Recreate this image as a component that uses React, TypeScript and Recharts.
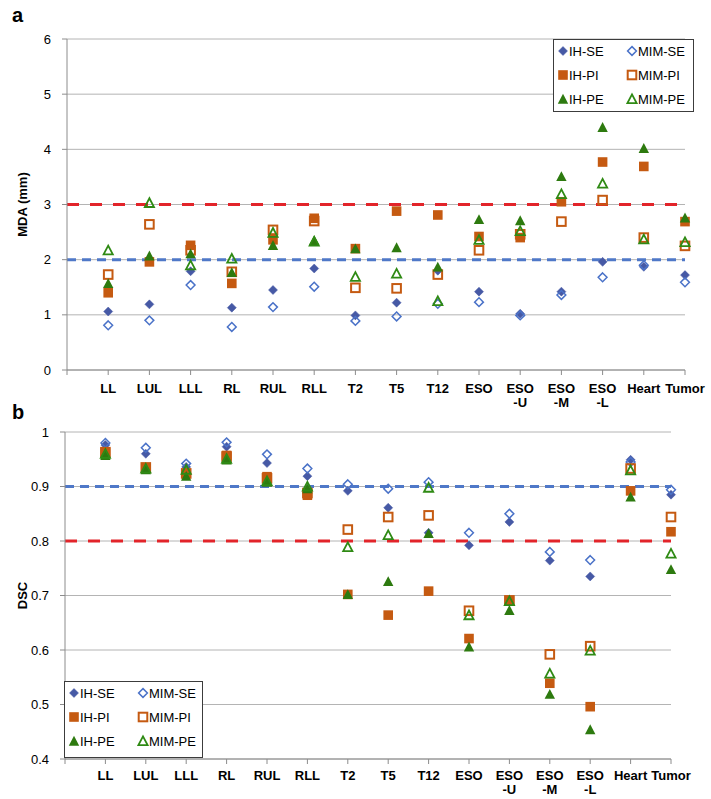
import React from 'react';
import {
    ScatterChart,
    Scatter,
    XAxis,
    YAxis,
    CartesianGrid,
    ReferenceLine,
    Legend
} from 'recharts';

const FONT = '"Liberation Sans", Arial, sans-serif';

// categorías del eje X (salto de línea = etiqueta en dos líneas)
const categories = ['LL', 'LUL', 'LLL', 'RL', 'RUL', 'RLL', 'T2', 'T5', 'T12', 'ESO', 'ESO\n-U', 'ESO\n-M', 'ESO\n-L', 'Heart', 'Tumor'];
const xTicks = [0, 1, 2, 3, 4, 5, 6, 7, 8, 9, 10, 11, 12, 13, 14, 15];

// panel a: MDA (mm)
const mdaTicks = [0, 1, 2, 3, 4, 5, 6];
const mdaIhSe = [1.06, 1.19, 1.79, 1.13, 1.45, 1.84, 0.99, 1.22, 1.80, 1.42, 1.02, 1.42, 1.96, 1.87, 1.72];
const mdaMimSe = [0.81, 0.90, 1.54, 0.78, 1.14, 1.51, 0.89, 0.97, 1.20, 1.23, 0.99, 1.36, 1.68, 1.90, 1.59];
const mdaIhPi = [1.40, 1.96, 2.26, 1.57, 2.36, 2.75, 2.20, 2.88, 2.81, 2.42, 2.40, 3.05, 3.77, 3.69, 2.69];
const mdaMimPi = [1.73, 2.64, 2.17, 1.78, 2.54, 2.70, 1.49, 1.48, 1.73, 2.17, 2.46, 2.69, 3.08, 2.40, 2.25];
const mdaIhPe = [1.57, 2.07, 2.11, 1.77, 2.26, 2.35, 2.20, 2.22, 1.87, 2.73, 2.71, 3.51, 4.40, 4.02, 2.76];
const mdaMimPe = [2.17, 3.03, 1.90, 2.02, 2.49, 2.33, 1.69, 1.75, 1.25, 2.36, 2.52, 3.19, 3.38, 2.37, 2.32];

// panel b: DSC
const dscTicks = [0.4, 0.5, 0.6, 0.7, 0.8, 0.9, 1];
const dscIhSe = [0.976, 0.960, 0.936, 0.973, 0.943, 0.919, 0.892, 0.861, 0.815, 0.792, 0.835, 0.764, 0.735, 0.949, 0.885];
const dscMimSe = [0.980, 0.971, 0.942, 0.981, 0.959, 0.933, 0.904, 0.896, 0.908, 0.815, 0.850, 0.780, 0.765, 0.945, 0.894];
const dscIhPi = [0.962, 0.933, 0.924, 0.957, 0.918, 0.884, 0.702, 0.664, 0.708, 0.621, 0.690, 0.539, 0.496, 0.892, 0.817];
const dscMimPi = [0.963, 0.935, 0.924, 0.955, 0.915, 0.888, 0.821, 0.844, 0.847, 0.672, 0.691, 0.592, 0.607, 0.933, 0.844];
const dscIhPe = [0.957, 0.931, 0.919, 0.949, 0.908, 0.896, 0.702, 0.726, 0.814, 0.606, 0.673, 0.519, 0.454, 0.881, 0.748];
const dscMimPe = [0.960, 0.933, 0.931, 0.951, 0.910, 0.900, 0.789, 0.811, 0.898, 0.664, 0.690, 0.557, 0.599, 0.930, 0.777];

type Kind = 'diamond' | 'square' | 'triangle';

interface SeriesDef {
    name: string;
    kind: Kind;
    open: boolean;
    color: string;
}

// orden de Excel: fila a fila en la leyenda
const seriesDefs: SeriesDef[] = [
    { name: 'IH-SE', kind: 'diamond', open: false, color: '#4659a5' },
    { name: 'MIM-SE', kind: 'diamond', open: true, color: '#4a72c8' },
    { name: 'IH-PI', kind: 'square', open: false, color: '#c55a11' },
    { name: 'MIM-PI', kind: 'square', open: true, color: '#c55a11' },
    { name: 'IH-PE', kind: 'triangle', open: false, color: '#2d7a0f' },
    { name: 'MIM-PE', kind: 'triangle', open: true, color: '#2f8a14' }
];

const toPoints = (values: number[]) => values.map((v, i) => ({ x: i + 1, y: v }));

const Marker = ({ cx, cy, kind, open, color }: { cx: number; cy: number; kind: Kind; open: boolean; color: string }) => {
    if (cx == null || cy == null) return null;
    if (kind === 'diamond') {
        const r = open ? 4.4 : 4.5;
        return (
            <path
                d={`M${cx},${cy - r}L${cx + r},${cy}L${cx},${cy + r}L${cx - r},${cy}Z`}
                fill={open ? 'none' : color}
                stroke={color}
                strokeWidth={open ? 1.5 : 0.5}
            />
        );
    }
    if (kind === 'square') {
        const h = open ? 4.3 : 4.8;
        return (
            <rect
                x={cx - h}
                y={cy - h}
                width={h * 2}
                height={h * 2}
                fill={open ? 'none' : color}
                stroke={color}
                strokeWidth={open ? 2 : 0}
            />
        );
    }
    const h = open ? 4.6 : 5.2;
    return (
        <path
            d={`M${cx},${cy - h}L${cx + h},${cy + h * 0.9}L${cx - h},${cy + h * 0.9}Z`}
            fill={open ? 'none' : color}
            stroke={color}
            strokeWidth={open ? 1.8 : 0}
            strokeLinejoin="miter"
        />
    );
};

const LegendBox = ({ width, height }: { width: number; height: number }) => (
    <div style={{ width, height, boxSizing: 'border-box', border: '1px solid #3c3c3c', background: '#fff' }}>
        <svg width={width - 2} height={height - 2} style={{ display: 'block' }}>
            {seriesDefs.map((s, i) => {
                const col = i % 2;
                const row = Math.floor(i / 2);
                const mx = 9 + col * 69;
                const my = 11 + row * 24;
                return (
                    <g key={s.name}>
                        <Marker cx={mx} cy={my} kind={s.kind} open={s.open} color={s.color} />
                        <text x={mx + 6} y={my + 4.5} fontSize={13} fontFamily={FONT} fill="#000">
                            {s.name}
                        </text>
                    </g>
                );
            })}
        </svg>
    </div>
);

const CategoryTick = (props: any) => {
    const { x, y, payload, firstDy } = props;
    const idx = payload.value;
    const name = idx >= 1 ? categories[idx - 1] : '';
    if (!name) return null;
    const lines = name.split('\n');
    return (
        <text x={x} y={y} textAnchor="middle" fontSize={13} fontWeight="bold" fontFamily={FONT} fill="#000">
            {lines.map((l: string, i: number) => (
                <tspan key={i} x={x} dy={i === 0 ? firstDy : 14}>
                    {l}
                </tspan>
            ))}
        </text>
    );
};

const AxisTitle = (props: any) => {
    const { viewBox, text } = props;
    const cy = viewBox.y + viewBox.height / 2;
    return (
        <text
            x={22}
            y={cy}
            transform={`rotate(-90, 22, ${cy})`}
            textAnchor="middle"
            dominantBaseline="central"
            fontSize={13}
            fontWeight="bold"
            fontFamily={FONT}
            fill="#000"
        >
            {text}
        </text>
    );
};

interface PanelProps {
    height: number;
    margin: { top: number; right: number; bottom: number; left: number };
    xAxisHeight: number;
    domain: [number, number];
    yTicks: number[];
    title: string;
    values: number[][];
    redY: number;
    blueY: number;
    legendLeft: number;
    legendTop: number;
    legendW: number;
    legendH: number;
    tickDy: number;
}

const Panel = (p: PanelProps) => (
    <ScatterChart width={711} height={p.height} margin={p.margin}>
        <CartesianGrid vertical={false} stroke="#b4b4b4" strokeWidth={1} />
        <XAxis
            type="number"
            dataKey="x"
            domain={[0, 15]}
            ticks={xTicks}
            interval={0}
            height={p.xAxisHeight}
            tickSize={5}
            tickMargin={1}
            axisLine={{ stroke: '#8c8c8c' }}
            tickLine={{ stroke: '#8c8c8c' }}
            tick={(tp: any) => <CategoryTick {...tp} firstDy={p.tickDy} />}
        />
        <YAxis
            type="number"
            dataKey="y"
            domain={p.domain}
            ticks={p.yTicks}
            interval={0}
            width={50}
            tickSize={5}
            tickMargin={11}
            axisLine={{ stroke: '#8c8c8c' }}
            tickLine={{ stroke: '#8c8c8c' }}
            tick={{ fill: '#000', fontSize: 13, fontFamily: FONT }}
            label={(lp: any) => <AxisTitle {...lp} text={p.title} />}
        />
        <ReferenceLine y={p.blueY} stroke="#4f78c8" strokeWidth={3} strokeDasharray="9 6" ifOverflow="visible" />
        <ReferenceLine y={p.redY} stroke="#e2242a" strokeWidth={3} strokeDasharray="12 11" ifOverflow="visible" />
        {seriesDefs.map((s, i) => (
            <Scatter
                key={s.name}
                name={s.name}
                data={toPoints(p.values[i])}
                isAnimationActive={false}
                shape={(sp: any) => <Marker cx={sp.cx} cy={sp.cy} kind={s.kind} open={s.open} color={s.color} />}
            />
        ))}
        <Legend
            layout="vertical"
            align="center"
            verticalAlign="middle"
            wrapperStyle={{ left: p.legendLeft, top: p.legendTop, width: p.legendW, height: p.legendH }}
            content={() => <LegendBox width={p.legendW} height={p.legendH} />}
        />
    </ScatterChart>
);

export default function App() {
    return (
        <div style={{ position: 'absolute', left: 0, top: 0, width: 711, height: 799, background: '#fff', fontFamily: FONT }}>
            <div style={{ position: 'absolute', left: 0, top: 0 }}>
                <Panel
                    height={415}
                    margin={{ top: 39, right: 26, bottom: 0, left: 17 }}
                    xAxisHeight={45}
                    domain={[0, 6]}
                    yTicks={mdaTicks}
                    title="MDA (mm)"
                    values={[mdaIhSe, mdaMimSe, mdaIhPi, mdaMimPi, mdaIhPe, mdaMimPe]}
                    redY={3}
                    blueY={2}
                    legendLeft={553}
                    legendTop={39}
                    legendW={141}
                    legendH={73}
                    tickDy={17}
                />
            </div>
            <div style={{ position: 'absolute', left: 0, top: 400 }}>
                <Panel
                    height={399}
                    margin={{ top: 32, right: 40, bottom: 0, left: 15 }}
                    xAxisHeight={40}
                    domain={[0.4, 1]}
                    yTicks={dscTicks}
                    title="DSC"
                    values={[dscIhSe, dscMimSe, dscIhPi, dscMimPi, dscIhPe, dscMimPe]}
                    redY={0.8}
                    blueY={0.9}
                    legendLeft={64}
                    legendTop={281}
                    legendW={139}
                    legendH={77}
                    tickDy={15}
                />
            </div>
            <div style={{ position: 'absolute', left: 12, top: 5, fontSize: 20, lineHeight: '20px', fontWeight: 'bold' }}>a</div>
            <div style={{ position: 'absolute', left: 12, top: 402, fontSize: 20, lineHeight: '20px', fontWeight: 'bold' }}>b</div>
        </div>
    );
}
